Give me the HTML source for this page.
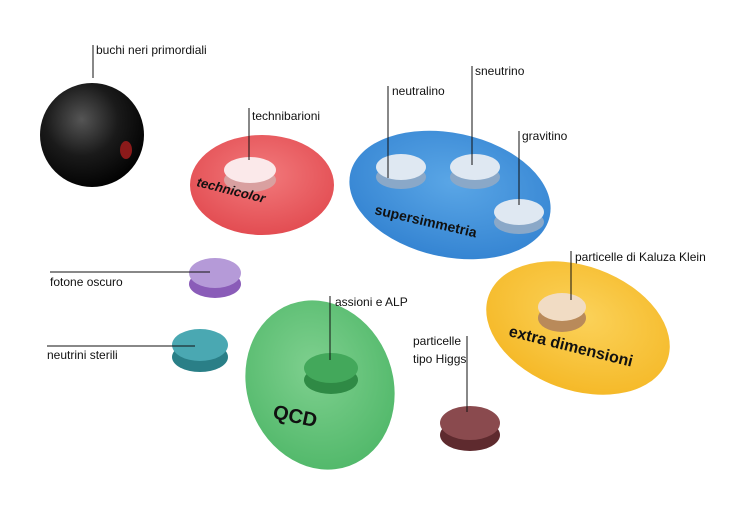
<!DOCTYPE html>
<html><head><meta charset="utf-8"><style>
html,body{margin:0;padding:0;background:#fff;}
svg{display:block;}
text{font-family:"Liberation Sans",sans-serif;}
.l{font-size:12px;fill:#111;}
.b{font-weight:bold;fill:#111;}
</style></head><body>
<svg width="743" height="517" viewBox="0 0 743 517" xmlns="http://www.w3.org/2000/svg">
<defs>
<radialGradient id="bk" cx="0.4" cy="0.35" r="0.7"><stop offset="0" stop-color="#555"/><stop offset="0.5" stop-color="#1a1a1a"/><stop offset="1" stop-color="#000"/></radialGradient>
<radialGradient id="rd" cx="0.5" cy="0.4" r="0.7"><stop offset="0" stop-color="#f27a7c"/><stop offset="1" stop-color="#e0454b"/></radialGradient>
<radialGradient id="bl" cx="0.5" cy="0.4" r="0.7"><stop offset="0" stop-color="#5aa6e6"/><stop offset="1" stop-color="#2f7fcf"/></radialGradient>
<radialGradient id="yl" cx="0.5" cy="0.4" r="0.7"><stop offset="0" stop-color="#fbd25a"/><stop offset="1" stop-color="#f4b520"/></radialGradient>
<radialGradient id="gr" cx="0.5" cy="0.4" r="0.7"><stop offset="0" stop-color="#7fd08f"/><stop offset="1" stop-color="#4bb565"/></radialGradient>
</defs>
<!-- black sphere -->
<circle cx="92" cy="135" r="52" fill="url(#bk)"/>
<ellipse cx="126" cy="150" rx="6" ry="9" fill="#8b1a1a"/>
<line x1="93" y1="45" x2="93" y2="78" stroke="#111"/>
<text class="l" x="96" y="54">buchi neri primordiali</text>
<!-- red -->
<ellipse cx="262" cy="185" rx="72" ry="50" fill="url(#rd)"/>
<ellipse cx="250" cy="180" rx="26" ry="12" fill="#d9a0a0"/>
<ellipse cx="250" cy="170" rx="26" ry="13" fill="#fbe9ea"/>
<text class="b" font-size="13" font-style="italic" transform="translate(196,186) rotate(14)">technicolor</text>
<line x1="249" y1="108" x2="249" y2="160" stroke="#111"/>
<text class="l" x="252" y="120">technibarioni</text>
<!-- blue -->
<ellipse cx="450" cy="195" rx="102" ry="62" transform="rotate(12 450 195)" fill="url(#bl)"/>
<ellipse cx="401" cy="177" rx="25" ry="12" fill="#8aa8c8"/>
<ellipse cx="401" cy="167" rx="25" ry="13" fill="#dfe8f2"/>
<ellipse cx="475" cy="177" rx="25" ry="12" fill="#8aa8c8"/>
<ellipse cx="475" cy="167" rx="25" ry="13" fill="#dfe8f2"/>
<ellipse cx="519" cy="222" rx="25" ry="12" fill="#8aa8c8"/>
<ellipse cx="519" cy="212" rx="25" ry="13" fill="#dfe8f2"/>
<text class="b" font-size="14" transform="translate(374,214) rotate(13)">supersimmetria</text>
<line x1="388" y1="86" x2="388" y2="178" stroke="#111"/>
<text class="l" x="392" y="95">neutralino</text>
<line x1="472" y1="66" x2="472" y2="165" stroke="#111"/>
<text class="l" x="475" y="75">sneutrino</text>
<line x1="519" y1="131" x2="519" y2="205" stroke="#111"/>
<text class="l" x="522" y="140">gravitino</text>
<!-- yellow -->
<ellipse cx="578" cy="328" rx="95" ry="62" transform="rotate(20 578 328)" fill="url(#yl)"/>
<ellipse cx="562" cy="318" rx="24" ry="14" fill="#b98a5a"/>
<ellipse cx="562" cy="307" rx="24" ry="14" fill="#f1dcc4"/>
<text class="b" font-size="16" transform="translate(508,336) rotate(14)">extra dimensioni</text>
<line x1="571" y1="251" x2="571" y2="300" stroke="#111"/>
<text class="l" x="575" y="261">particelle di Kaluza Klein</text>
<!-- purple -->
<ellipse cx="215" cy="284" rx="26" ry="14" fill="#8a5cb8"/>
<ellipse cx="215" cy="273" rx="26" ry="15" fill="#b59ad8"/>
<line x1="50" y1="272" x2="210" y2="272" stroke="#111"/>
<text class="l" x="50" y="286">fotone oscuro</text>
<!-- teal -->
<ellipse cx="200" cy="357" rx="28" ry="15" fill="#2a7f87"/>
<ellipse cx="200" cy="345" rx="28" ry="16" fill="#4aa8b2"/>
<line x1="47" y1="346" x2="195" y2="346" stroke="#111"/>
<text class="l" x="47" y="359">neutrini sterili</text>
<!-- green -->
<ellipse cx="320" cy="385" rx="73" ry="86" transform="rotate(-20 320 385)" fill="url(#gr)"/>
<ellipse cx="331" cy="380" rx="27" ry="14" fill="#2f8a45"/>
<ellipse cx="331" cy="368" rx="27" ry="15" fill="#43a85b"/>
<text class="b" font-size="20" transform="translate(272,418) rotate(12)">QCD</text>
<line x1="330" y1="296" x2="330" y2="360" stroke="#111"/>
<text class="l" x="335" y="306">assioni e ALP</text>
<!-- brown -->
<ellipse cx="470" cy="435" rx="30" ry="16" fill="#5e2a2e"/>
<ellipse cx="470" cy="423" rx="30" ry="17" fill="#8a4a4e"/>
<line x1="467" y1="336" x2="467" y2="412" stroke="#111"/>
<text class="l" x="413" y="345">particelle</text>
<text class="l" x="413" y="363">tipo Higgs</text>
</svg>
</body></html>
